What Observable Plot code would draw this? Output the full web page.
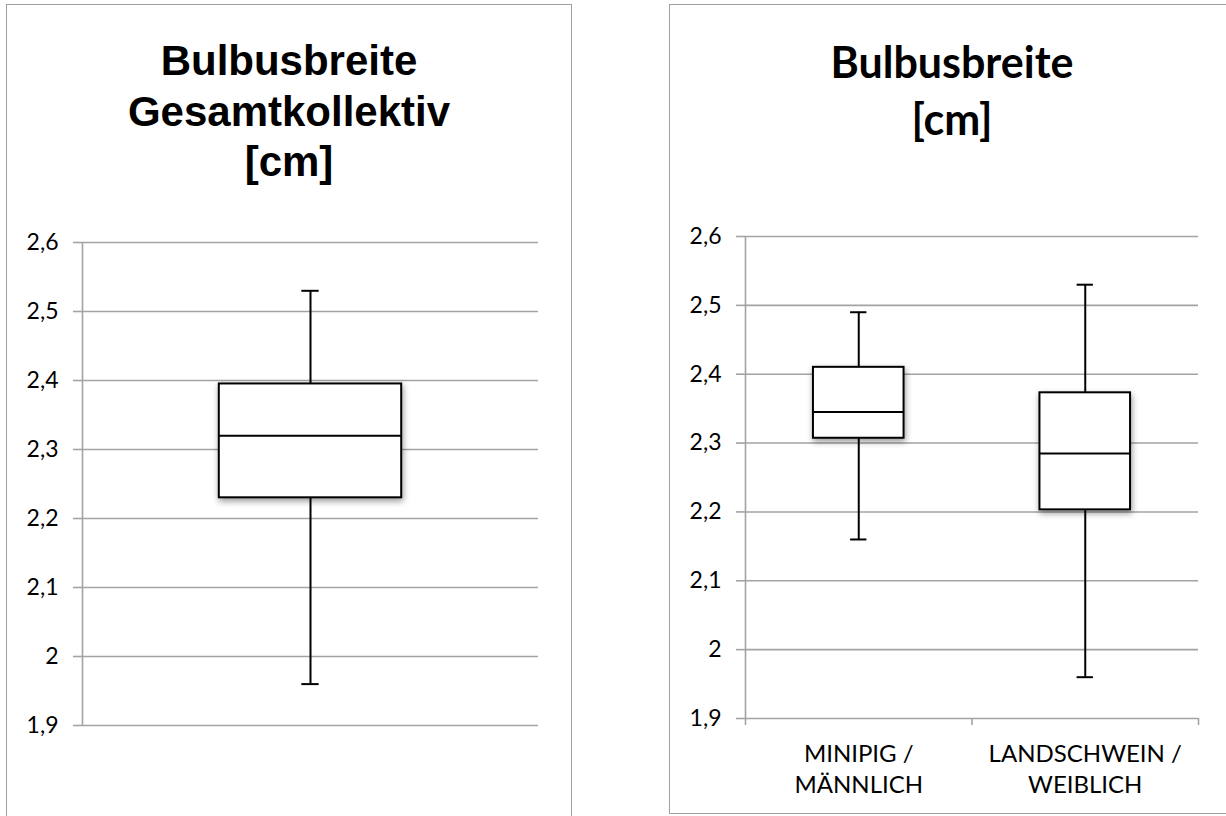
<!DOCTYPE html>
<html>
<head>
<meta charset="utf-8">
<script src="https://cdn.jsdelivr.net/npm/d3@7"></script>
<script src="https://cdn.jsdelivr.net/npm/@observablehq/plot@0.6"></script>
<style>
  html, body { margin: 0; padding: 0; background: #fff; }
  body { width: 1226px; height: 816px; position: relative; overflow: hidden; font-family: Lato, "Open Sans", sans-serif; }
  .panel { position: absolute; border: 1.5px solid #a0a0a0; box-sizing: border-box; background: #fff; }
  .title { position: absolute; text-align: center; font-weight: bold; color: #000; }
  .chart { position: absolute; }
</style>
</head>
<body>
<div class="panel" style="left:6px; top:4px; width:566px; height:830px;"></div>
<div class="panel" style="left:669px; top:4px; width:580px; height:810px;"></div>
<div class="title" style="left:7px; top:36px; width:564px; font-family:'Liberation Sans', Arial, sans-serif; font-size:42px; line-height:50.5px;">Bulbusbreite<br>Gesamtkollektiv<br>[cm]</div>
<div class="title" style="left:670px; top:33px; width:564px; font-family:Lato, sans-serif; font-size:43px; line-height:57px;">Bulbusbreite<br>[cm]</div>
<div id="left" class="chart" style="left:7px; top:200px;"></div>
<div id="right" class="chart" style="left:670px; top:195px;"></div>
<script>
// ---- data ----
const yTicks = [1.9, 2.0, 2.1, 2.2, 2.3, 2.4, 2.5, 2.6];

const totalCategories = ["Gesamtkollektiv"];
const totalMin = [1.96];
const totalQ1 = [2.23];
const totalMedian = [2.32];
const totalQ3 = [2.395];
const totalMax = [2.53];

const groupCategories = ["MINIPIG /\nMÄNNLICH", "LANDSCHWEIN /\nWEIBLICH"];
const groupMin = [2.16, 1.96];
const groupQ1 = [2.307, 2.203];
const groupMedian = [2.345, 2.285];
const groupQ3 = [2.41, 2.373];
const groupMax = [2.49, 2.53];

const gridColor = "#a3a3a3";
const fmt = d => (Math.abs(d - 2) < 1e-9 ? "2" : d.toFixed(1).replace(".", ","));

function boxChart({cats, mins, q1s, meds, q3s, maxs, width, height, margins, capHalf, showX}) {
  const rows = cats.map((c, i) => ({c, i, min: mins[i], q1: q1s[i], med: meds[i], q3: q3s[i], max: maxs[i]}));
  const boxHalf = 0.2;
  const cx = d => d.i + 0.5;
  const marks = [
    Plot.gridY({ticks: yTicks, stroke: gridColor, strokeOpacity: 1, strokeWidth: 1.6}),
    Plot.axisY({ticks: yTicks, tickSize: 9, tickPadding: 15, stroke: gridColor, strokeOpacity: 1, strokeWidth: 1.6,
      tickFormat: fmt, fontSize: 23, fill: "#000", label: null}),
    Plot.ruleX([0], {stroke: gridColor, strokeWidth: 1.6}),
    Plot.ruleX(rows, {x: cx, y1: "min", y2: "max", stroke: "#000", strokeWidth: 2}),
    Plot.ruleY(rows, {y: "min", x1: d => cx(d) - capHalf, x2: d => cx(d) + capHalf, stroke: "#000", strokeWidth: 2}),
    Plot.ruleY(rows, {y: "max", x1: d => cx(d) - capHalf, x2: d => cx(d) + capHalf, stroke: "#000", strokeWidth: 2}),
    Plot.rect(rows, {x1: d => cx(d) - boxHalf, x2: d => cx(d) + boxHalf, y1: "q1", y2: "q3", fill: "#fff", stroke: "#000", strokeWidth: 2}),
    Plot.ruleY(rows, {y: "med", x1: d => cx(d) - boxHalf, x2: d => cx(d) + boxHalf, stroke: "#000", strokeWidth: 2})
  ];
  if (showX) {
    marks.push(Plot.axisX({ticks: d3.range(cats.length + 1), tickSize: 7, tickFormat: () => "", stroke: gridColor, strokeOpacity: 1, strokeWidth: 1.6, label: null}));
    marks.push(Plot.text(rows, {x: cx, text: "c", frameAnchor: "bottom", lineAnchor: "top", dy: 21, lineHeight: 1.3, fontSize: 24, fill: "#000"}));
  }
  const svg = Plot.plot({
    width, height,
    marginLeft: margins[0], marginRight: margins[1], marginTop: margins[2], marginBottom: margins[3],
    style: {fontFamily: "Lato, 'Open Sans', sans-serif", color: "#000", background: "transparent", overflow: "visible"},
    x: {type: "linear", domain: [0, cats.length], axis: showX ? undefined : null},
    y: {domain: [1.9, 2.6]},
    marks
  });
  d3.select(svg).selectAll('g[aria-label="rect"]').style("filter", "drop-shadow(1px 3px 3px rgba(0,0,0,0.4))");
  return svg;
}

document.getElementById("left").append(boxChart({
  cats: totalCategories, mins: totalMin, q1s: totalQ1, meds: totalMedian, q3s: totalQ3, maxs: totalMax,
  width: 564, height: 600, margins: [75, 33, 42, 75], capHalf: 0.019, showX: false
}));
document.getElementById("right").append(boxChart({
  cats: groupCategories, mins: groupMin, q1s: groupQ1, meds: groupMedian, q3s: groupQ3, maxs: groupMax,
  width: 556, height: 600, margins: [75, 28, 41, 77], capHalf: 0.036, showX: true
}));
</script>
</body>
</html>
